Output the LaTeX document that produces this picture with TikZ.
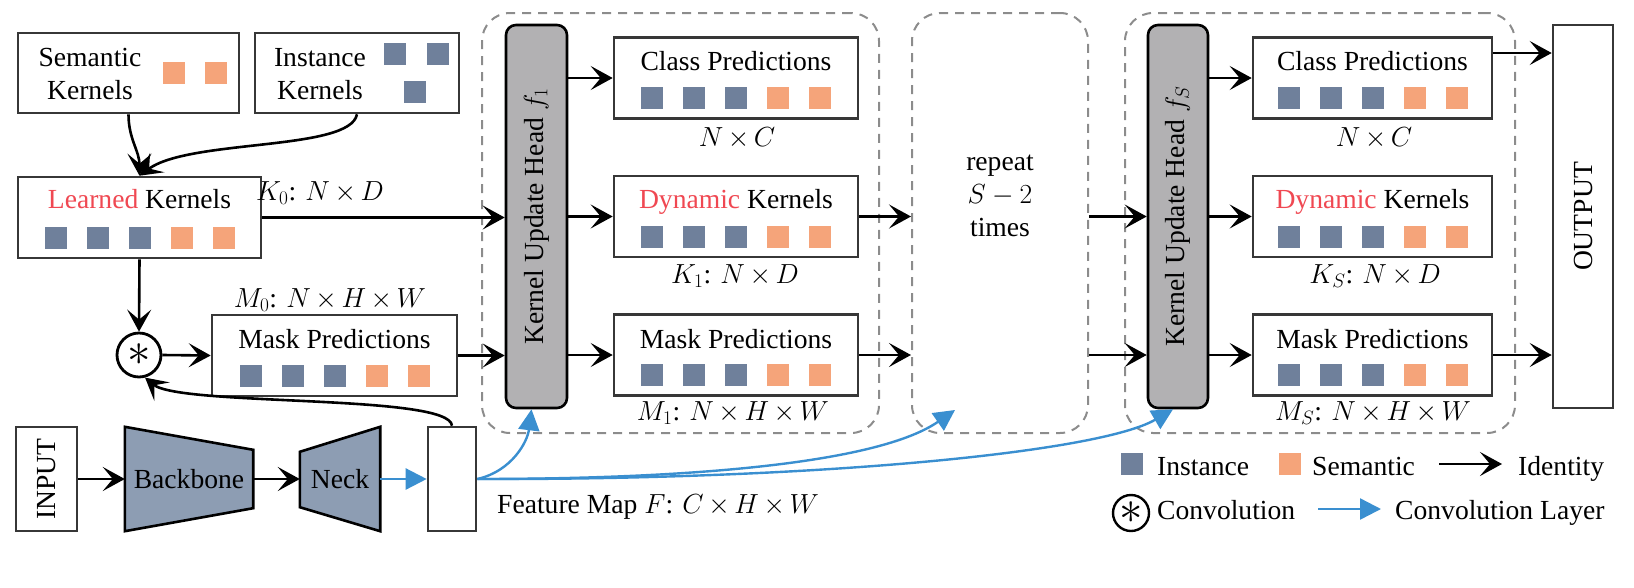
\RequirePackage{fix-cm}
\documentclass[tikz,border=0pt]{standalone}
\usepackage{fontspec}
\setmainfont{Liberation Serif}
\usepackage{graphicx}
\usetikzlibrary{arrows.meta,calc,backgrounds}
\definecolor{instc}{RGB}{111,128,155}
\definecolor{semc}{RGB}{245,164,122}
\definecolor{redc}{RGB}{240,72,82}
\definecolor{bluec}{RGB}{58,143,208}
\definecolor{trapc}{RGB}{141,157,179}
\definecolor{kuhc}{RGB}{178,177,179}
\definecolor{boxc}{RGB}{55,55,55}
\definecolor{dashc}{RGB}{140,140,140}
\newcommand{\kernrow}[1]{%
  \foreach \dx/\cc in {-84/instc,-42/instc,0/instc,42/semc,84/semc}{%
    \fill[\cc] ($(#1)+(\dx-11,9)$) rectangle ++(22,22);}}
\newcommand{\tms}{\mskip3mu{\times}\mskip3mu}
\newcommand{\convstar}{\scalebox{1.7}{$\ast$}}
\tikzset{
  every node/.style={font=\fontsize{27.6}{33}\selectfont, inner sep=0pt},
  box/.style={draw=boxc, line width=2.6pt, fill=white},
  predbox/.style={box, minimum width=244, minimum height=81},
  dbox/.style={draw=dashc, line width=2pt, dash pattern=on 9pt off 7pt, rounded corners=28pt},
  kuh/.style={draw=black, line width=2.6pt, fill=kuhc, rounded corners=10pt, minimum width=61, minimum height=383},
  trap/.style={draw=black, line width=2.6pt, fill=trapc, line join=miter},
  arr/.style={draw=black, line width=2.6pt, -{Stealth[length=22pt,width=24pt,inset=10pt]}},
  blarr/.style={draw=bluec, line width=2.4pt, -{Triangle[length=21pt,width=21pt]}},
  convc/.style={circle, draw=black, line width=2.8pt, fill=white},
}
\begin{document}
\begin{tikzpicture}[x=1pt,y=-1pt]
\useasboundingbox (0,0) rectangle (1634,587);
% dashed groups
\node[dbox, minimum width=397, minimum height=420] (g1) at (680.5,223) {};
\node[dbox, minimum width=176, minimum height=420] (rep) at (1000,223) {};
\node[dbox, minimum width=390, minimum height=420] (g3) at (1320,223) {};
\node[align=center] (rept) at (1000,196) {repeat\\$S-2$\\times};
% kernels
\node[box, minimum width=221, minimum height=80] (sem) at (128.5,73) {};
\node[align=center] (semt) at (90,74) {Semantic\\Kernels};
\fill[semc] ($(sem)+(34.5,-11)$) rectangle ++(22,22);
\fill[semc] ($(sem)+(76.5,-11)$) rectangle ++(22,22);
\node[box, minimum width=204, minimum height=80] (ins) at (357,73) {};
\node[align=center] (inst) at (320,74) {Instance\\Kernels};
\fill[instc] ($(ins)+(27,-30)$) rectangle ++(22,22);
\fill[instc] ($(ins)+(70,-30)$) rectangle ++(22,22);
\fill[instc] ($(ins)+(47,8)$) rectangle ++(22,22);
\node[box, minimum width=243, minimum height=81] (lk) at (139.5,217.5) {};
\node[anchor=base] (lkt) at ($(lk)+(0,-9.5)$) {\textcolor{redc}{Learned} Kernels};
\kernrow{lk}
\node[anchor=base] (k0d) at (320,200) {$K_0$: $N\tms D$};
% convolution and M0
\node[convc, minimum size=44] (conv) at (139,355) {\convstar};
\node[box, minimum width=245, minimum height=81] (m0) at (334.5,355.5) {};
\node[anchor=base] (m0t) at ($(m0)+(0,-7)$) {Mask Predictions};
\kernrow{m0}
\node[anchor=base] (m0d) at (330,307) {$M_0$: $N\tms H\tms W$};
% bottom row
\node[box, minimum width=61, minimum height=104] (input) at (46.5,479) {\rotatebox{90}{INPUT}};
\node[minimum width=128, minimum height=104] (bb) at (189,479) {Backbone};
\node[minimum width=80, minimum height=104] (neck) at (340,479) {Neck};
\begin{scope}[on background layer]
\draw[trap] (bb.north west) -- (bb.south west) -- ($(bb.south east)+(0,-23)$) -- ($(bb.north east)+(0,23)$) -- cycle;
\draw[trap] ($(neck.north west)+(0,25)$) -- ($(neck.south west)+(0,-24)$) -- (neck.south east) -- (neck.north east) -- cycle;
\end{scope}
\node[box, minimum width=48, minimum height=104] (fm) at (452,479) {};
\node[anchor=base west] (fmt) at (497,513) {Feature Map $F$: $C\tms H\tms W$};
% stage 1
\node[kuh] (kuh1) at (536.5,216.5) {\rotatebox{90}{Kernel Update Head $f_1$}};
\node[predbox] (cp1) at (736,78) {};
\node[anchor=base] (cp1t) at ($(cp1)+(0,-8)$) {Class Predictions};
\kernrow{cp1}
\node[anchor=base] (cp1d) at (737,146) {$N\tms C$};
\node[predbox] (dk1) at (736,216.5) {};
\node[anchor=base] (dk1t) at ($(dk1)+(0,-8.5)$) {\textcolor{redc}{Dynamic} Kernels};
\kernrow{dk1}
\node[anchor=base] (dk1d) at (735,283) {$K_1$: $N\tms D$};
\node[predbox] (mp1) at (736,355) {};
\node[anchor=base] (mp1t) at ($(mp1)+(0,-7)$) {Mask Predictions};
\kernrow{mp1}
\node[anchor=base] (mp1d) at (733,420) {$M_1$: $N\tms H\tms W$};
% stage S
\node[kuh, minimum width=60] (kuhS) at (1178,216.5) {\rotatebox{90}{Kernel Update Head $f_S$}};
\node[predbox, minimum width=239] (cpS) at (1372.5,78) {};
\node[anchor=base] (cpSt) at ($(cpS)+(0,-8)$) {Class Predictions};
\kernrow{cpS}
\node[anchor=base] (cpSd) at (1374,146) {$N\tms C$};
\node[predbox, minimum width=239] (dkS) at (1372.5,216.5) {};
\node[anchor=base] (dkSt) at ($(dkS)+(0,-8.5)$) {\textcolor{redc}{Dynamic} Kernels};
\kernrow{dkS}
\node[anchor=base] (dkSd) at (1375,283) {$K_S$: $N\tms D$};
\node[predbox, minimum width=239] (mpS) at (1372.5,355) {};
\node[anchor=base] (mpSt) at ($(mpS)+(0,-7)$) {Mask Predictions};
\kernrow{mpS}
\node[anchor=base] (mpSd) at (1373,420) {$M_S$: $N\tms H\tms W$};
\node[box, minimum width=60, minimum height=383] (out) at (1583,216.5) {\rotatebox{90}{OUTPUT}};
% black connectors
\draw[arr] (sem.south) .. controls +(0,25) and +(0,-25) .. (lk.north);
\draw[arr] (ins.south) .. controls +(-7,37) and +(50,-37) .. (lk.north);
\draw[arr] (lk.south) -- (conv.north);
\draw[arr] (conv.east) -- (m0.west);
\draw[arr] (fm.north) .. controls +(-2,-32) and +(35,29) .. (conv.-75);
\draw[arr] (lk.east) -- (lk.east -| kuh1.west);
\draw[arr] (m0.east) -- (m0.east -| kuh1.west);
\draw[arr] (cp1.west -| kuh1.east) -- (cp1.west);
\draw[arr] (dk1.west -| kuh1.east) -- (dk1.west);
\draw[arr] (mp1.west -| kuh1.east) -- (mp1.west);
\draw[arr] (dk1.east) -- (dk1.east -| rep.west);
\draw[arr] (mp1.east) -- (mp1.east -| rep.west);
\draw[arr] (dk1.east -| rep.east) -- (dk1.east -| kuhS.west);
\draw[arr] (mp1.east -| rep.east) -- (mp1.east -| kuhS.west);
\draw[arr] (cpS.west -| kuhS.east) -- (cpS.west);
\draw[arr] (dkS.west -| kuhS.east) -- (dkS.west);
\draw[arr] (mpS.west -| kuhS.east) -- (mpS.west);
\coordinate (cpSo) at ($(cpS.east)+(0,-25)$);
\draw[arr] (cpSo) -- (cpSo -| out.west);
\draw[arr] (mpS.east) -- (mpS.east -| out.west);
\draw[arr] (input.east) -- (bb.west);
\draw[arr] (bb.east) -- (neck.west);
% blue connectors
\draw[blarr] (neck.east) -- (fm.west);
\draw[blarr] (fm.east) .. controls +(35,-8) and +(-4,32) .. ($(kuh1.south)+(-5,0)$);
\coordinate (repin) at (955,410);
\draw[blarr] (fm.east) .. controls (700,479) and (880,462) .. (repin);
\draw[blarr] (fm.east) .. controls (820,480) and (1100,452) .. ($(kuhS.south)+(-5,0)$);
% legend
\node[fill=instc, minimum size=22] (lgi) at (1132,464) {};
\node[anchor=base west] (lgit) at (1157,475) {Instance};
\node[fill=semc, minimum size=22] (lgs) at (1290,464) {};
\node[anchor=base west] (lgst) at (1312,475) {Semantic};
\coordinate (lga1) at (1439,464);
\coordinate (lga2) at (1502,464);
\draw[arr] (lga1) -- (lga2);
\node[anchor=base west] (lgat) at (1518,475) {Identity};
\node[convc, minimum size=36, line width=2.4pt] (lgc) at (1131,513) {\convstar};
\node[anchor=base west] (lgct) at (1157,519) {Convolution};
\coordinate (lgb1) at (1318,509);
\coordinate (lgb2) at (1381,509);
\draw[blarr] (lgb1) -- (lgb2);
\node[anchor=base west] (lgbt) at (1395,519) {Convolution Layer};
\end{tikzpicture}
\end{document}
